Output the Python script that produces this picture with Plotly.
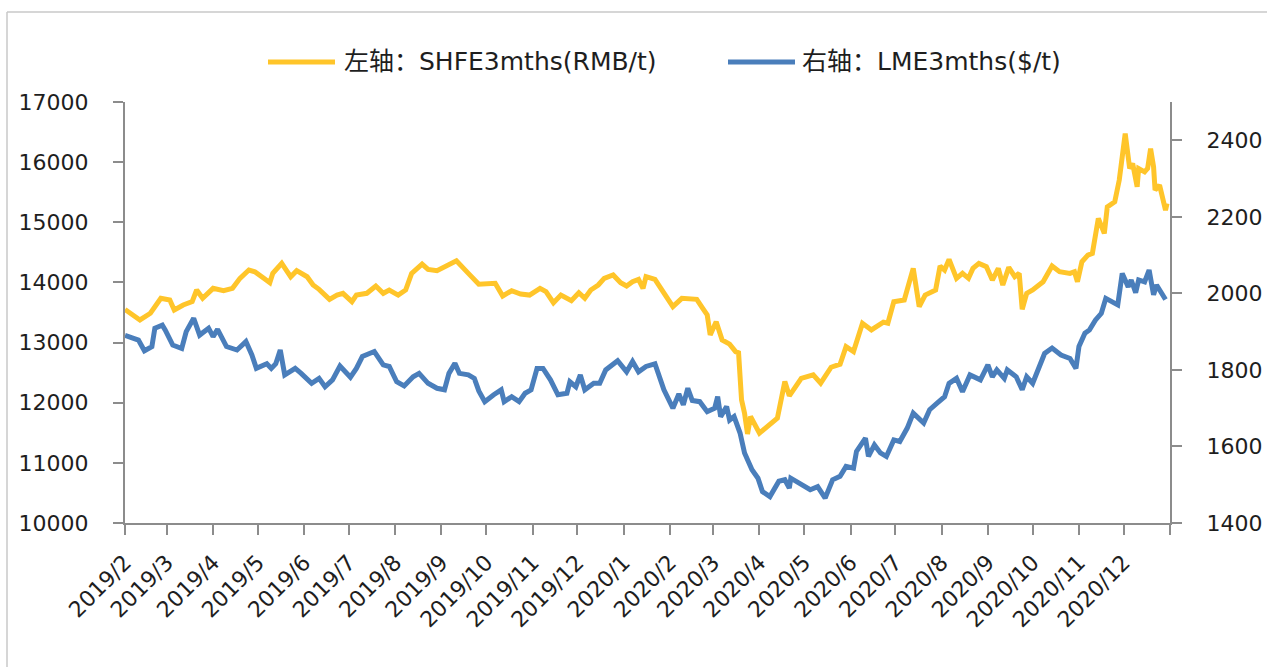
import plotly.graph_objects as go

# ---------------- data ----------------
shfe_dates = [
    "2019-02-01","2019-02-11","2019-02-18","2019-02-25","2019-03-03","2019-03-06","2019-03-12","2019-03-18","2019-03-21","2019-03-25",
    "2019-04-01","2019-04-08","2019-04-14","2019-04-19","2019-04-25","2019-04-29","2019-05-05","2019-05-09","2019-05-11","2019-05-17",
    "2019-05-20","2019-05-23","2019-05-27","2019-06-03","2019-06-07","2019-06-11","2019-06-18","2019-06-23","2019-06-27","2019-07-03",
    "2019-07-06","2019-07-13","2019-07-19","2019-07-24","2019-07-28","2019-08-03","2019-08-08","2019-08-12","2019-08-19","2019-08-23",
    "2019-08-29","2019-09-03","2019-09-11","2019-09-19","2019-09-26","2019-10-07","2019-10-12","2019-10-18","2019-10-24","2019-10-30",
    "2019-11-06","2019-11-10","2019-11-15","2019-11-20","2019-11-27","2019-12-02","2019-12-06","2019-12-10","2019-12-15","2019-12-19",
    "2019-12-25","2019-12-30","2020-01-03","2020-01-07","2020-01-11","2020-01-14","2020-01-16","2020-01-22","2020-01-27","2020-02-03",
    "2020-02-09","2020-02-14","2020-02-19","2020-02-23","2020-02-26","2020-02-28","2020-03-03","2020-03-07","2020-03-12","2020-03-16",
    "2020-03-18","2020-03-20","2020-03-22","2020-03-24","2020-03-26","2020-04-01","2020-04-06","2020-04-13","2020-04-18","2020-04-21",
    "2020-04-29","2020-05-07","2020-05-12","2020-05-19","2020-05-25","2020-05-29","2020-06-03","2020-06-09","2020-06-15","2020-06-23",
    "2020-06-26","2020-06-30","2020-07-07","2020-07-13","2020-07-17","2020-07-21","2020-07-28","2020-07-31","2020-08-03","2020-08-06",
    "2020-08-11","2020-08-15","2020-08-19","2020-08-22","2020-08-26","2020-08-31","2020-09-04","2020-09-08","2020-09-11","2020-09-15",
    "2020-09-19","2020-09-22","2020-09-24","2020-09-27","2020-10-01","2020-10-08","2020-10-14","2020-10-19","2020-10-26","2020-10-29",
    "2020-10-31","2020-11-03","2020-11-07","2020-11-10","2020-11-14","2020-11-18","2020-11-20","2020-11-25","2020-11-28","2020-12-02",
    "2020-12-05","2020-12-07","2020-12-10","2020-12-11","2020-12-15","2020-12-17","2020-12-19","2020-12-21","2020-12-22","2020-12-25",
    "2020-12-29","2020-12-30",
]
shfe_values = [
    13550,13376,13487,13736,13708,13542,13625,13680,13874,13736,
    13902,13862,13902,14068,14206,14178,14068,13995,14151,14317,
    14206,14095,14195,14095,13957,13885,13719,13790,13819,13680,
    13790,13819,13940,13819,13874,13790,13874,14151,14306,14217,
    14195,14261,14360,14151,13970,13985,13774,13862,13807,13790,
    13902,13846,13663,13790,13696,13829,13736,13874,13957,14068,
    14123,13995,13940,14011,14051,13902,14095,14051,13846,13597,
    13736,13736,13719,13570,13459,13126,13347,13043,12975,12849,
    12830,12047,11826,11480,11770,11494,11604,11743,12351,12115,
    12406,12462,12324,12590,12640,12932,12850,13321,13210,13340,
    13321,13680,13708,14234,13597,13790,13874,14272,14206,14383,
    14068,14151,14068,14234,14317,14261,14040,14234,13957,14250,
    14095,14151,13553,13819,13874,14011,14272,14178,14151,14178,
    14011,14343,14455,14483,15064,14815,15257,15340,15700,16475,
    15894,15977,15589,15894,15838,15894,16226,15921,15534,15617,
    15202,15313,
]

lme_dates = [
    "2019-02-01","2019-02-10","2019-02-14","2019-02-19","2019-02-21","2019-02-26","2019-02-28","2019-03-05","2019-03-11","2019-03-14",
    "2019-03-19","2019-03-23","2019-03-29","2019-04-01","2019-04-04","2019-04-10","2019-04-17","2019-04-23","2019-04-27","2019-04-30",
    "2019-05-07","2019-05-10","2019-05-13","2019-05-16","2019-05-19","2019-05-26","2019-05-30","2019-06-06","2019-06-11","2019-06-15",
    "2019-06-20","2019-06-25","2019-07-02","2019-07-06","2019-07-10","2019-07-18","2019-07-24","2019-07-28","2019-08-02","2019-08-07",
    "2019-08-13","2019-08-17","2019-08-23","2019-08-29","2019-09-03","2019-09-06","2019-09-10","2019-09-13","2019-09-19","2019-09-23",
    "2019-09-26","2019-09-30","2019-10-06","2019-10-11","2019-10-13","2019-10-18","2019-10-23","2019-10-27","2019-10-31","2019-11-04",
    "2019-11-08","2019-11-13","2019-11-18","2019-11-24","2019-11-26","2019-11-30","2019-12-03","2019-12-06","2019-12-12","2019-12-16",
    "2019-12-20","2019-12-28","2020-01-03","2020-01-07","2020-01-11","2020-01-16","2020-01-22","2020-01-28","2020-02-03","2020-02-07",
    "2020-02-10","2020-02-13","2020-02-16","2020-02-21","2020-02-26","2020-03-02","2020-03-04","2020-03-06","2020-03-10","2020-03-12",
    "2020-03-15","2020-03-19","2020-03-22","2020-03-27","2020-03-31","2020-04-03","2020-04-08","2020-04-14","2020-04-18","2020-04-21",
    "2020-04-22","2020-04-28","2020-05-05","2020-05-10","2020-05-15","2020-05-20","2020-05-25","2020-05-29","2020-06-03","2020-06-05",
    "2020-06-11","2020-06-13","2020-06-17","2020-06-21","2020-06-25","2020-06-30","2020-07-04","2020-07-09","2020-07-13","2020-07-20",
    "2020-07-24","2020-07-29","2020-08-03","2020-08-06","2020-08-11","2020-08-15","2020-08-20","2020-08-27","2020-09-01","2020-09-04",
    "2020-09-07","2020-09-12","2020-09-14","2020-09-20","2020-09-24","2020-09-27","2020-10-01","2020-10-09","2020-10-14","2020-10-20",
    "2020-10-26","2020-10-30","2020-11-01","2020-11-05","2020-11-08","2020-11-12","2020-11-16","2020-11-19","2020-11-23","2020-11-27",
    "2020-11-30","2020-12-04","2020-12-06","2020-12-09","2020-12-11","2020-12-15","2020-12-18","2020-12-21","2020-12-23","2020-12-27",
    "2020-12-29",
]
lme_values = [
    1890,1878,1850,1861,1909,1917,1904,1865,1856,1900,
    1935,1891,1909,1887,1906,1861,1852,1874,1839,1804,
    1816,1804,1816,1852,1787,1804,1791,1765,1778,1756,
    1774,1810,1781,1804,1835,1848,1813,1809,1769,1758,
    1782,1791,1765,1752,1748,1791,1817,1791,1787,1778,
    1745,1717,1735,1748,1717,1730,1717,1739,1748,1804,
    1804,1774,1735,1739,1769,1756,1787,1748,1765,1765,
    1800,1824,1795,1822,1795,1809,1816,1748,1700,1737,
    1709,1752,1720,1717,1691,1700,1730,1678,1704,1669,
    1678,1635,1583,1539,1517,1482,1469,1509,1513,1491,
    1517,1504,1487,1495,1465,1513,1522,1548,1543,1587,
    1622,1574,1604,1583,1574,1617,1613,1648,1687,1661,
    1696,1713,1730,1765,1778,1743,1787,1774,1813,1782,
    1800,1778,1800,1782,1748,1782,1765,1843,1857,1839,
    1830,1804,1861,1896,1904,1930,1948,1987,1978,1970,
    2052,2017,2035,2002,2035,2030,2061,1996,2022,2000,
    1984,
]

month_ticks = [
    "2019-02-01","2019-03-01","2019-04-01","2019-05-01","2019-06-01","2019-07-01","2019-08-01","2019-09-01",
    "2019-10-01","2019-11-01","2019-12-01","2020-01-01","2020-02-01","2020-03-01","2020-04-01","2020-05-01",
    "2020-06-01","2020-07-01","2020-08-01","2020-09-01","2020-10-01","2020-11-01","2020-12-01","2021-01-01",
]
month_labels = [
    "2019/2","2019/3","2019/4","2019/5","2019/6","2019/7","2019/8","2019/9",
    "2019/10","2019/11","2019/12","2020/1","2020/2","2020/3","2020/4","2020/5",
    "2020/6","2020/7","2020/8","2020/9","2020/10","2020/11","2020/12","",
]

shfe_name = "左轴：SHFE3mths(RMB/t)"
lme_name = "右轴：LME3mths($/t)"

# ---------------- styling ----------------
YELLOW = "#FFC52A"
BLUE = "#4A7EBB"
AXIS = "#8C8C8C"
TEXT = "#1E1E1E"
FONT = "DejaVu Sans, Noto Sans CJK SC, sans-serif"

W, H = 1267, 667
ML, MR, MT, MB = 125, 97, 102, 144
PW, PH = W - ML - MR, H - MT - MB


def px_x(p):
    return (p - ML) / PW


def px_y(p):
    return (H - MB - p) / PH


fig = go.Figure()
fig.add_trace(go.Scatter(x=shfe_dates, y=shfe_values, mode="lines", name=shfe_name,
                         line=dict(color=YELLOW, width=5), showlegend=False))
fig.add_trace(go.Scatter(x=lme_dates, y=lme_values, mode="lines", name=lme_name, yaxis="y2",
                         line=dict(color=BLUE, width=5), showlegend=False))

axis_common = dict(showgrid=False, zeroline=False, showline=True, linecolor=AXIS, linewidth=2,
                   ticks="outside", ticklen=10, tickwidth=2, tickcolor=AXIS,
                   tickfont=dict(family=FONT, size=22, color=TEXT))

fig.update_layout(
    width=W, height=H,
    margin=dict(l=ML, r=MR, t=MT, b=MB, autoexpand=False),
    paper_bgcolor="white", plot_bgcolor="white",
    font=dict(family=FONT, color=TEXT),
    xaxis=dict(type="date", range=["2019-02-01", "2021-01-01"], tickmode="array",
               tickvals=month_ticks, ticktext=month_labels, tickangle=-45,
               ticklabelstandoff=6, **axis_common),
    yaxis=dict(range=[10000, 17000], tick0=10000, dtick=1000, tickformat="d",
               ticklabelstandoff=20, **axis_common),
    yaxis2=dict(range=[1400, 2500], tick0=1400, dtick=200, tickformat="d", overlaying="y", side="right",
                ticklabelstandoff=20, **axis_common),
    showlegend=False,
)

# legend drawn as line samples + text
leg_y = px_y(62)
for x0, x1, color, text, tx in [(268, 335, YELLOW, shfe_name, 342), (728, 795, BLUE, lme_name, 800)]:
    fig.add_shape(type="line", xref="paper", yref="paper", x0=px_x(x0), x1=px_x(x1), y0=leg_y, y1=leg_y,
                  line=dict(color=color, width=5))
    fig.add_annotation(xref="paper", yref="paper", x=px_x(tx), y=leg_y, text=text, showarrow=False,
                       xanchor="left", yanchor="middle", font=dict(family=FONT, size=25, color=TEXT))

# outer chart border (top and left visible)
fig.add_shape(type="line", xref="paper", yref="paper", x0=px_x(7), x1=px_x(1290), y0=px_y(12), y1=px_y(12),
              line=dict(color="#C8C8C8", width=1.5))
fig.add_shape(type="line", xref="paper", yref="paper", x0=px_x(7), x1=px_x(7), y0=px_y(12), y1=px_y(700),
              line=dict(color="#C8C8C8", width=1.5))

fig.write_html("out.html", config={"displayModeBar": False},
               post_script="document.body.style.margin='0';document.body.style.overflow='hidden';")
